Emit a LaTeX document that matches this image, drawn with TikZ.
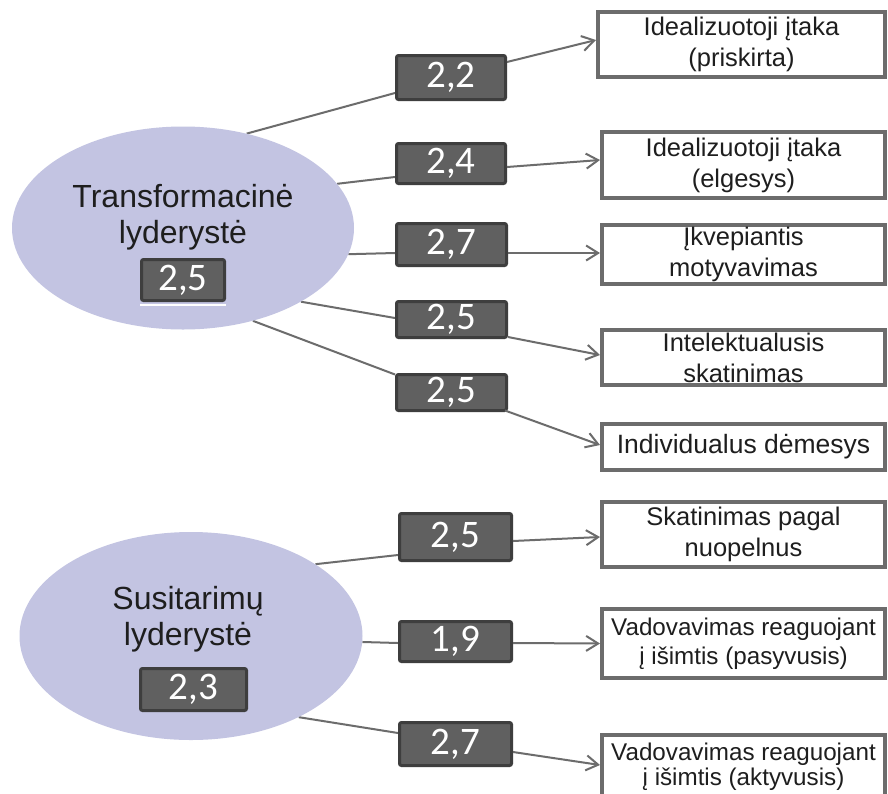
\documentclass[tikz,border=0pt]{standalone}
\usepackage{fontspec}
\setmainfont{Liberation Sans}
\newfontfamily\numfont{Carlito}
\usetikzlibrary{arrows.meta,shapes.geometric,backgrounds}
\definecolor{ellc}{RGB}{195,196,226}
\definecolor{valfill}{RGB}{96,96,96}
\definecolor{valdraw}{RGB}{62,62,62}
\definecolor{boxdraw}{RGB}{108,108,108}
\definecolor{linec}{RGB}{108,108,108}
\definecolor{txtc}{RGB}{30,30,30}
\begin{document}
\begin{tikzpicture}[x=1pt,y=-1pt,
  ellnode/.style={ellipse, fill=ellc, inner sep=0pt},
  titletext/.style={align=center, text=txtc, inner sep=0pt, font=\fontsize{32}{36}\selectfont},
  valbox/.style={draw=valdraw, fill=valfill, line width=3pt, rounded corners=2pt, text=white, inner sep=0pt, font=\numfont\fontsize{39}{42}\selectfont},
  tbox/.style={draw=boxdraw, fill=white, line width=4pt, align=center, text=txtc, inner sep=0pt, font=\fontsize{25.5}{31}\selectfont},
  conn/.style={draw=linec, line width=2pt},
  arr/.style={conn, -{Straight Barb[length=12pt,width=15pt]}}
]
\useasboundingbox (0,0) rectangle (888,793);
\clip (0,0) rectangle (888,793);

% ellipses
\node[ellnode, minimum width=342pt, minimum height=203pt] (e1) at (183,228) {};
\node[ellnode, minimum width=343pt, minimum height=208pt] (e2) at (191,636) {};
\node[titletext] (tt1) at (183,217) {Transformacinė\\lyderystė};
\node[titletext] (tt2) at (188,619) {Susitarimų\\lyderystė};
\node[valbox, minimum width=83pt, minimum height=41pt] (in1) at (183,280) {2,5};
\node[valbox, minimum width=106pt, minimum height=42pt] (in2) at (193.5,689.5) {2,3};
\draw[white, line width=2pt] ([yshift=-3pt]in1.south west) -- ([yshift=-3pt]in1.south east);

% value boxes
\node[valbox, minimum width=109pt, minimum height=44pt] (v1) at (451,77.5) {2,2};
\node[valbox, minimum width=109pt, minimum height=40pt] (v2) at (451,163.5) {2,4};
\node[valbox, minimum width=110pt, minimum height=42pt] (v3) at (451.5,244.5) {2,7};
\node[valbox, minimum width=110pt, minimum height=36pt] (v4) at (451.5,319.5) {2,5};
\node[valbox, minimum width=110pt, minimum height=36pt] (v5) at (451.5,392.5) {2,5};
\node[valbox, minimum width=112pt, minimum height=47pt] (v6) at (455.5,537) {2,5};
\node[valbox, minimum width=112pt, minimum height=40pt] (v7) at (455.5,641.5) {1,9};
\node[valbox, minimum width=112pt, minimum height=43pt] (v8) at (455.5,744) {2,7};

% target boxes
\node[tbox, minimum width=287pt, minimum height=65pt] (t1) at (741.5,44.5) {Idealizuotoji įtaka\\(priskirta)};
\node[tbox, minimum width=283pt, minimum height=66pt] (t2) at (743.5,165) {Idealizuotoji įtaka\\(elgesys)};
\node[tbox, minimum width=283pt, minimum height=59pt] (t3) at (743.5,254.5) {Įkvepiantis\\motyvavimas};
\node[tbox, minimum width=283pt, minimum height=55pt] (t4) at (743.5,357.5) {Intelektualusis\\skatinimas};
\node[tbox, minimum width=283pt, minimum height=46pt, font=\fontsize{26.5}{30}\selectfont] (t5) at (743.5,447) {Individualus dėmesys};
\node[tbox, minimum width=283pt, minimum height=65pt] (t6) at (743.5,534.5) {Skatinimas pagal\\nuopelnus};
\node[tbox, minimum width=283pt, minimum height=69pt, font=\fontsize{24.2}{29}\selectfont] (t7) at (743.5,643.5) {Vadovavimas reaguojant\\ į išimtis (pasyvusis)};
\node[tbox, minimum width=283pt, minimum height=100pt] (t8) at (743.5,785) {};
\node[align=center, text=txtc, inner sep=0pt, font=\fontsize{24.2}{25}\selectfont] (t8text) at (743.5,767) {Vadovavimas reaguojant\\ į išimtis (aktyvusis)};

% connectors
\begin{scope}[on background layer]
\fill[white] (0,0) rectangle (888,793);
\draw[conn] (e1.56) -- ([yshift=-15.5pt]v1.west);
\draw[conn] (e1.16) -- ([yshift=-13.5pt]v2.west);
\draw[conn] (e1.-9) -- ([yshift=-8.5pt]v3.west);
\draw[conn] (e1.-32) -- ([yshift=1.5pt]v4.west);
\draw[conn] (e1.-53) -- ([yshift=18pt]v5.west);
\draw[conn] (e2.30) -- ([yshift=-18pt]v6.west);
\draw[conn] (e2.-2) -- ([yshift=-1.5pt]v7.west);
\draw[conn] (e2.-37) -- ([yshift=11pt]v8.west);
\end{scope}
\draw[arr] ([yshift=15.5pt]v1.east) -- ([yshift=4.5pt]t1.west);
\draw[arr] ([yshift=-3.5pt]v2.east) -- ([yshift=5pt]t2.west);
\draw[arr] ([yshift=-8.5pt]v3.east) -- ([yshift=1.5pt]t3.west);
\draw[arr] ([yshift=-17.5pt]v4.east) -- ([yshift=2.5pt]t4.west);
\draw[arr] ([xshift=-3pt,yshift=-18pt]v5.east) -- ([yshift=2pt]t5.west);
\draw[arr] ([yshift=-4pt]v6.east) -- ([yshift=-2.5pt]t6.west);
\draw[arr] ([yshift=-1.5pt]v7.east) -- ([yshift=0pt]t7.west);
\draw[arr] ([yshift=-8pt]v8.east) -- ([yshift=20pt]t8.west);
\end{tikzpicture}
\end{document}
